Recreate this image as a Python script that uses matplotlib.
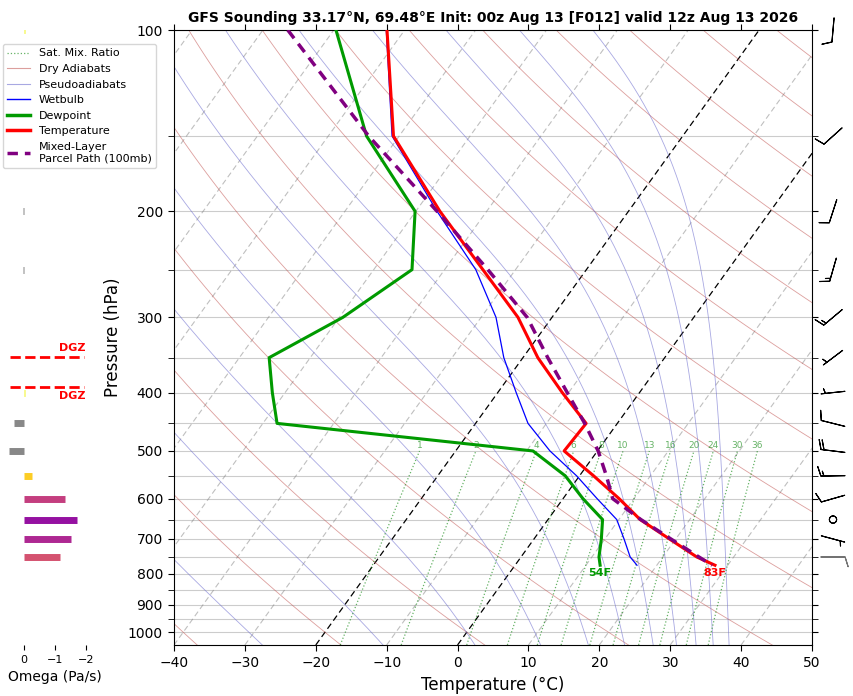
import numpy as np
import matplotlib
matplotlib.use("Agg")
import matplotlib.pyplot as plt
from matplotlib.lines import Line2D
from matplotlib.colors import Normalize

# sounding (hPa / degC), top down
pres = [100, 150, 200, 250, 300, 350, 400, 450, 500, 550, 600, 650, 700, 750, 774]
temp = [-72.5, -60.8, -46.6, -34.6, -24.8, -17.9, -10.9, -4.4, -4.7, 2.0, 7.9, 13.0, 19.1, 24.8, 28.2]
dewp = [-79.7, -64.6, -50.1, -44.6, -49.5, -55.8, -51.8, -48.0, -9.1, -2.0, 2.8, 7.7, 9.5, 11.0, 12.0]
wetb = [-72.6, -61.0, -47.0, -35.6, -27.9, -22.7, -17.4, -12.6, -6.7, -0.4, 4.8, 9.7, 12.7, 15.4, 17.2]

parcel_pres = [100, 150, 200, 250, 300, 350, 400, 450, 500, 550, 600, 650, 700, 750, 774]
parcel_temp = [-86.5, -64.3, -47.0, -33.9, -23.5, -16.5, -10.2, -4.6, 0.1, 3.8, 7.0, 13.1, 19.3, 25.1, 27.8]

# omega (Pa/s)
omega_pres = [100, 150, 200, 250, 300, 350, 400, 450, 500, 550, 600, 650, 700, 750]
omega = [-0.02, 0.0, 0.03, 0.03, 0.0, 0.0, -0.02, 0.32, 0.48, -0.26, -1.32, -1.71, -1.52, -1.16]
dgz_top, dgz_bot = 349, 391

# winds
wind_pres = [100, 150, 200, 250, 300, 350, 400, 450, 500, 550, 600, 650, 700, 750]
wind_dir = [185, 228, 198, 196, 230, 233, 264, 284, 277, 269, 254, 0, 105, 90]
wind_spd = [10, 10, 10, 15, 15, 5, 5, 10, 20, 15, 10, 0, 5, 10]
wind_col = ["k"] * 13 + ["0.45"]

mix_ratios = [1, 2, 4, 6, 8, 10, 13, 16, 20, 24, 30, 36]  # g/kg

title = "GFS Sounding 33.17°N, 69.48°E Init: 00z Aug 13 [F012] valid 12z Aug 13 2026"

SKEW = 26.6
P_BOT, P_TOP = 1050, 100
Rd, Cp, Lv, eps = 287.04, 1005.7, 2.501e6, 0.622


def skew_x(t, p):
    return np.asarray(t, float) + SKEW * np.log(P_BOT / np.asarray(p, float))


def sat_vap(tk):
    return 6.112 * np.exp(17.67 * (tk - 273.15) / (tk - 29.65))


def dt_dlnp(tk, p):
    es = sat_vap(tk)
    rs = eps * es / (p - es)
    return (Rd * tk + Lv * rs) / (Cp + Lv * Lv * rs * eps / (Rd * tk * tk))


W, H = 854, 696
fig = plt.figure(figsize=(W / 100, H / 100), dpi=100)
bottom = (H - 645) / H
height = (645 - 30) / H
ax = fig.add_axes([174 / W, bottom, (812 - 174) / W, height])
ax.set_yscale("log")
ax.set_ylim(P_BOT, P_TOP)
ax.set_xlim(-40, 50)

pl = np.geomspace(P_BOT, P_TOP, 120)

# horizontal grid
for p0 in range(100, 1001, 50):
    ax.axhline(p0, color="#cccccc", lw=0.8, zorder=0)

# isotherms
for t0 in range(-110, 51, 10):
    if t0 in (0, -20):
        ax.plot(skew_x([t0, t0], [P_BOT, P_TOP]), [P_BOT, P_TOP], color="k",
                lw=0.9, dashes=(5, 3), zorder=1)
    else:
        ax.plot(skew_x([t0, t0], [P_BOT, P_TOP]), [P_BOT, P_TOP], color="gray",
                alpha=0.5, lw=0.8, dashes=(5, 3), zorder=1)

# dry adiabats
for th in np.arange(233.15, 530, 20):
    tt = th * (pl / 1000) ** (Rd / Cp) - 273.15
    ax.plot(skew_x(tt, pl), pl, color="#c0504d", alpha=0.55, lw=0.6, zorder=1)

# pseudoadiabats, integrated down from the top
lnp = np.linspace(np.log(P_TOP), np.log(P_BOT), 300)
thetas = np.arange(243.15, 450, 20)
tk = thetas * (P_TOP / 1000) ** (Rd / Cp)
prof = [tk.copy()]
for i in range(len(lnp) - 1):
    h = lnp[i + 1] - lnp[i]
    p1, pm, p2 = np.exp(lnp[i]), np.exp(lnp[i] + h / 2), np.exp(lnp[i + 1])
    k1 = dt_dlnp(tk, p1)
    k2 = dt_dlnp(tk + h / 2 * k1, pm)
    k3 = dt_dlnp(tk + h / 2 * k2, pm)
    k4 = dt_dlnp(tk + h * k3, p2)
    tk = tk + h / 6 * (k1 + 2 * k2 + 2 * k3 + k4)
    prof.append(tk.copy())
prof = np.array(prof) - 273.15
pp = np.exp(lnp)
for j in range(len(thetas)):
    ax.plot(skew_x(prof[:, j], pp), pp, color="#6f6fcf", alpha=0.6, lw=0.6, zorder=1)

# mixing ratio lines
pm_ = np.geomspace(P_BOT, 500, 40)
for w in mix_ratios:
    ww = w / 1000
    e = ww * pm_ / (eps + ww)
    td = 243.5 * np.log(e / 6.112) / (17.67 - np.log(e / 6.112))
    ax.plot(skew_x(td, pm_), pm_, color="g", ls=":", lw=0.9, alpha=0.6, zorder=1)
    ax.text(skew_x(td[-1], 500), 500 * 0.995, str(w), color="g", alpha=0.6,
            fontsize=6.5, ha="center", va="bottom")

# profiles
ax.plot(skew_x(wetb, pres), pres, color="b", lw=0.9, zorder=3)
ax.plot(skew_x(dewp, pres), pres, color="#009a00", lw=2.2, zorder=4)
ax.plot(skew_x(temp, pres), pres, color="r", lw=2.2, zorder=4)
ax.plot(skew_x(parcel_temp, parcel_pres), parcel_pres, color="purple", lw=2.5,
        dashes=(3, 2), zorder=5)

t_f = temp[-1] * 9 / 5 + 32
td_f = dewp[-1] * 9 / 5 + 32
ax.annotate(f"{t_f:.0f}F", (skew_x(temp[-1], pres[-1]), pres[-1]), xytext=(0, -2),
            textcoords="offset points", ha="center", va="top", color="r",
            fontsize=8, fontweight="bold")
ax.annotate(f"{td_f:.0f}F", (skew_x(dewp[-1], pres[-1]), pres[-1]), xytext=(0, -2),
            textcoords="offset points", ha="center", va="top", color="#009a00",
            fontsize=8, fontweight="bold")

majors = list(range(100, 1001, 100))
ax.set_yticks(majors, labels=[str(m) for m in majors])
ax.set_yticks(list(range(150, 1000, 100)), minor=True)
ax.yaxis.set_minor_formatter(plt.NullFormatter())
ax.set_xticks(range(-40, 51, 10))
ax.tick_params(axis="both", which="both", direction="out", top=True, right=True,
               labelsize=10, length=4.5)
ax.set_xlabel("Temperature (°C)", fontsize=12)
ax.set_ylabel("Pressure (hPa)", fontsize=12)
ax.set_title(title, fontsize=10, fontweight="bold", pad=6)

# omega panel
axo = fig.add_axes([8.5 / W, bottom, 93 / W, height])
axo.set_yscale("log")
axo.set_ylim(P_BOT, P_TOP)
axo.set_xlim(0.5, -2.5)
norm = Normalize(vmin=-2.5, vmax=0)
cols = ["#888888" if w > 0 else plt.cm.plasma(norm(w)) for w in omega]
axo.hlines(omega_pres, 0, omega, colors=cols, lw=5)
axo.hlines([dgz_top, dgz_bot], 0.45, -1.95, colors="r", ls="--", lw=2)
axo.text(-2.0, dgz_top * 0.985, "DGZ", color="r", fontweight="bold", fontsize=8,
         ha="right", va="bottom")
axo.text(-2.0, dgz_bot * 1.015, "DGZ", color="r", fontweight="bold", fontsize=8,
         ha="right", va="top")
for s in axo.spines.values():
    s.set_visible(False)
axo.set_yticks([])
axo.set_yticks([], minor=True)
axo.set_xticks([0, -1, -2])
axo.tick_params(axis="x", labelsize=8, length=3.5)
axo.set_xlabel("Omega (Pa/s)", fontsize=10)

# wind barbs
axb = fig.add_axes([812 / W, bottom, 42 / W, height])
axb.set_yscale("log")
axb.set_ylim(P_BOT, P_TOP)
axb.set_xlim(0, 1)
axb.axis("off")
rad = np.deg2rad(wind_dir)
u = -np.array(wind_spd) * np.sin(rad)
v = -np.array(wind_spd) * np.cos(rad)
axb.barbs(np.full(len(wind_pres), 0.5), wind_pres, u, v, color=wind_col,
          length=5.9, pivot="middle", lw=0.8, clip_on=False)

handles = [
    Line2D([], [], color="g", ls=":", lw=0.9, alpha=0.6),
    Line2D([], [], color="#c0504d", alpha=0.55, lw=0.8),
    Line2D([], [], color="#6f6fcf", alpha=0.6, lw=0.8),
    Line2D([], [], color="b", lw=1),
    Line2D([], [], color="#009a00", lw=2.5),
    Line2D([], [], color="r", lw=2.5),
    Line2D([], [], color="purple", lw=2.5, dashes=(3, 2)),
]
labels = ["Sat. Mix. Ratio", "Dry Adiabats", "Pseudoadiabats", "Wetbulb", "Dewpoint",
          "Temperature", "Mixed-Layer\nParcel Path (100mb)"]
fig.legend(handles, labels, loc="upper left", bbox_to_anchor=(3 / W, 1 - 44 / H),
           fontsize=8, borderaxespad=0)

fig.savefig("out.png", dpi=100)
